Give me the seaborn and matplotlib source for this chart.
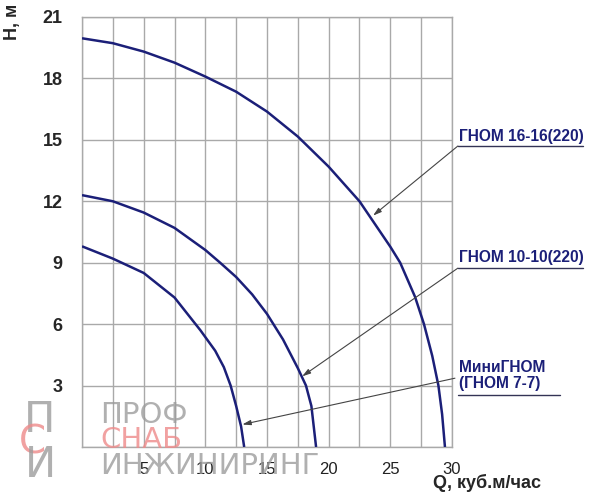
import matplotlib.pyplot as plt
import seaborn as sns
import numpy as np

# pump curves: Q (m3/h) -> H (m)
q_16 = [0, 2.5, 5, 7.5, 10, 12.5, 15, 17.5, 20, 22.5, 25, 25.8, 27.0, 27.73, 28.4, 28.9, 29.2, 29.43]
h_16 = [19.96, 19.72, 19.31, 18.77, 18.09, 17.35, 16.38, 15.16, 13.69, 12.0, 9.78, 9.0, 7.34, 6.0, 4.45, 3.0, 1.6, 0]

q_10 = [0, 2.5, 5, 7.5, 10, 11.2, 12.5, 13.8, 15, 16.3, 17.5, 18.16, 18.6, 18.98]
h_10 = [12.3, 12.0, 11.45, 10.7, 9.62, 9.0, 8.3, 7.45, 6.5, 5.25, 3.85, 3.0, 2.0, 0]

q_mini = [0, 2.5, 5, 7.5, 9.6, 10.8, 11.5, 12.05, 12.5, 12.9, 13.15]
h_mini = [9.8, 9.2, 8.5, 7.3, 5.7, 4.7, 3.9, 3.0, 2.0, 1.0, 0]

x_ticks = [5, 10, 15, 20, 25, 30]
y_ticks = [3, 6, 9, 12, 15, 18, 21]

navy = "#1b1f78"
grid_col = "#a9a9a9"

sns.set_style("white")
plt.rcParams['font.family'] = ['Liberation Sans', 'DejaVu Sans']

fig = plt.figure(figsize=(6, 4.98), dpi=100)
ax = fig.add_axes([0.1367, 0.1024, 0.6166, 0.8635])

for q, h in [(q_16, h_16), (q_10, h_10), (q_mini, h_mini)]:
    sns.lineplot(x=q, y=h, sort=False, color=navy, lw=1.8, ax=ax, zorder=3,
                 solid_joinstyle="round", solid_capstyle="butt")

ax.set_xlim(0, 30)
ax.set_ylim(0, 21)
grid_x = np.arange(0, 30.1, 2.5)
ax.set_xticks(grid_x)
ax.set_xticklabels([str(int(v)) if v in x_ticks else "" for v in grid_x],
                   fontsize=12, color="#222222")
ax.set_yticks([0] + y_ticks)
ax.set_yticklabels([""] + [str(v) for v in y_ticks], fontsize=13, fontweight="bold")
ax.tick_params(length=0)
ax.tick_params(axis="x", pad=11)
ax.tick_params(axis="y", pad=14)
ax.grid(True, color=grid_col, lw=1)
for s in ax.spines.values():
    s.set_color(grid_col)
    s.set_linewidth(1)

fig.text(12 / 600, 1 - 22 / 498, "Н, м", rotation=90, fontsize=13, fontweight="bold",
         ha="center", va="center")
fig.text(433 / 600, 1 - 483 / 498, "Q, куб.м/час", fontsize=13, fontweight="bold",
         ha="left", va="center")

# labels with underline and pointer
lab_kw = dict(transform=ax.transAxes, fontsize=11.2, fontweight="bold", color=navy,
              ha="left", va="center", clip_on=False)
ax.text(1.02, 0.721, "ГНОМ 16-16(220)", **lab_kw)
ax.text(1.02, 0.440, "ГНОМ 10-10(220)", **lab_kw)
ax.text(1.02, 0.186, "МиниГНОМ", **lab_kw)
ax.text(1.02, 0.147, "(ГНОМ 7-7)", **lab_kw)

for y0, x1 in [(0.700, 1.354), (0.416, 1.354), (0.121, 1.292)]:
    ax.plot([1.016, x1], [y0, y0], transform=ax.transAxes, color="#333355", lw=1,
            clip_on=False)

arr_kw = dict(arrowstyle="-|>,head_length=0.5,head_width=0.15", color="#444444", lw=0.8,
              shrinkA=0, shrinkB=0)
for start, end in [((1.016, 0.700), (23.6, 11.3)),
                   ((1.016, 0.416), (17.85, 3.45)),
                   ((1.008, 0.160), (13.0, 1.1))]:
    ax.annotate("", xy=end, xycoords="data", xytext=start, textcoords="axes fraction",
                arrowprops=arr_kw, annotation_clip=False)

# watermark
wm_gray = "#9c9c9c"
wm_red = "#ee8a8a"
fig.text(100 / 600, 1 - 415 / 498, "ПРОФ", fontsize=21, color=wm_gray, alpha=0.8,
         va="center", ha="left", family="DejaVu Sans")
fig.text(100 / 600, 1 - 440 / 498, "СНАБ", fontsize=21, color=wm_red, alpha=0.8,
         va="center", ha="left", family="DejaVu Sans")
fig.text(100 / 600, 1 - 466 / 498, "ИНЖИНИРИНГ", fontsize=21, color=wm_gray, alpha=0.8,
         va="center", ha="left", family="DejaVu Sans")
fig.text(40 / 600, 1 - 420 / 498, "П", fontsize=30, color=wm_gray, alpha=0.8,
         va="center", ha="center", family="DejaVu Sans")
fig.text(32 / 600, 1 - 443 / 498, "С", fontsize=28, color=wm_red, alpha=0.8,
         va="center", ha="center", family="DejaVu Sans")
fig.text(40 / 600, 1 - 465 / 498, "И", fontsize=30, color=wm_gray, alpha=0.8,
         va="center", ha="center", family="DejaVu Sans")

fig.savefig("out.png", dpi=100)
